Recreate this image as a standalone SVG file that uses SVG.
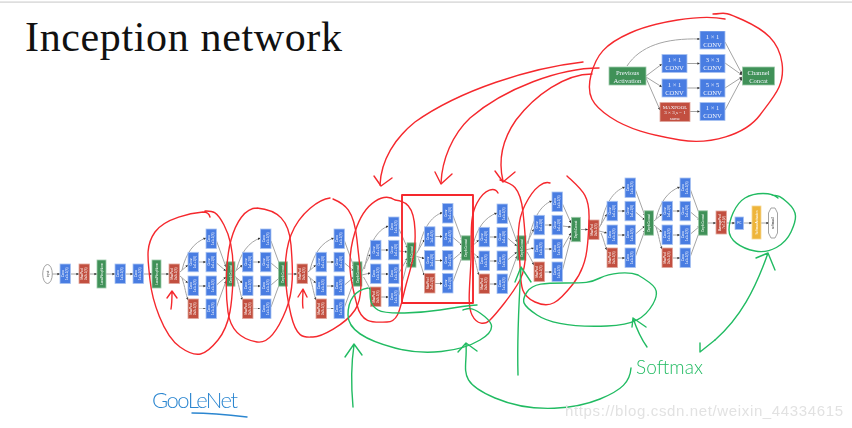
<svg xmlns="http://www.w3.org/2000/svg" width="852" height="428" viewBox="0 0 852 428">
<style>
.b{fill:#4a7de2;stroke:#a9c3f2;stroke-width:.8}
.r{fill:#c2503f;stroke:#e0a79e;stroke-width:.8}
.g{fill:#3f9158;stroke:#9fcbab;stroke-width:.8}
.y{fill:#eeb53a;stroke:#f6d894;stroke-width:.8}
.o{fill:#fff;stroke:#999;stroke-width:.9}
.e{fill:none;stroke:#a4a4a4;stroke-width:1;marker-end:url(#a)}
.t{font-family:"Liberation Sans",Arial,sans-serif;font-size:3px;fill:#fff;text-anchor:middle}
.k{fill:#333}
.i{font-family:"Liberation Serif","Times New Roman",serif;font-size:6.6px;fill:#f2f5fd;text-anchor:middle}
.red{fill:none;stroke:#f5282d;stroke-width:1.4;stroke-linecap:round;stroke-linejoin:round}
.grn{fill:none;stroke:#21bb62;stroke-width:1.4;stroke-linecap:round;stroke-linejoin:round}
.blu{fill:none;stroke:#2b86d0;stroke-width:1.4;stroke-linecap:round}
</style>
<defs>
<filter id="soft" x="0" y="0" width="100%" height="100%"><feGaussianBlur stdDeviation="0.4"/></filter>
<marker id="a" markerWidth="3" markerHeight="3" refX="2.6" refY="1.500" orient="auto"><path d="M0,.3L2.800,1.500L0,2.700z" fill="#333"/></marker>
<g id="cv"><rect class="b" width="10.500" height="19.500"/><text class="t" transform="translate(4.400,9.750) rotate(-90)">Conv</text><text class="t" transform="translate(8,9.750) rotate(-90)">1x1+1(S)</text></g>
<g id="mp"><rect class="r" width="10.500" height="19.500"/><text class="t" transform="translate(4.400,9.750) rotate(-90)">MaxPool</text><text class="t" transform="translate(8,9.750) rotate(-90)">3x3+1(S)</text></g>
<g id="cc"><rect class="g" y="-12.200" width="9" height="24.400"/><text class="t" transform="translate(5.600,0) rotate(-90)">DepthConcat</text></g>
<g id="mod">
<use href="#cv" x="18"/><use href="#cv" y="23.300"/><use href="#cv" x="18" y="23.300"/><use href="#cv" y="47"/><use href="#cv" x="18" y="47"/><use href="#mp" y="70"/><use href="#cv" x="18" y="70"/>
</g>
<g id="inner"><path class="e" d="M10.500,33H18"/><path class="e" d="M10.500,57H18"/><path class="e" d="M10.500,80H18"/></g>
<g id="fanA"><path class="e" d="M-6,41C-2,24 6,13 18,9"/><path class="e" d="M-8,43L0,36"/><path class="e" d="M-8,47L0,54"/><path class="e" d="M-6,49C-3,58 -2,66 0,71"/></g>
<g id="fanB"><path class="e" d="M-6,47C-2,26 6,13 18,9"/><path class="e" d="M-8,50L0,36"/><path class="e" d="M-8,53L0,55"/><path class="e" d="M-6,55C-3,62 -2,68 0,72"/></g>
<g id="fanC"><path class="e" d="M-6,52C-2,28 6,13 18,9"/><path class="e" d="M-9,55L0,37"/><path class="e" d="M-9,58L0,56"/><path class="e" d="M-7,60C-4,65 -2,69 0,73"/></g>
<g id="outA"><path class="e" d="M28.500,12L38,38"/><path class="e" d="M28.500,34L38,42"/><path class="e" d="M28.500,56L38,48"/><path class="e" d="M28.500,78L38,52"/></g>
<g id="outB"><path class="e" d="M28.500,12L37,31"/><path class="e" d="M28.500,34L37,35"/><path class="e" d="M28.500,56L37,41"/><path class="e" d="M28.500,78L37,45"/></g>
</defs>
<rect width="852" height="428" fill="#fff"/>
<rect y="1.500" width="852" height="1.200" fill="#d0d0d0"/>
<text id="title" x="25" y="51" font-family="'Liberation Serif','Times New Roman',serif" font-size="42" fill="#111" textLength="317">Inception network</text>

<g id="connectors" filter="url(#soft)">
<path class="e" d="M52,274H60"/><path class="e" d="M71,274H79"/><path class="e" d="M90,274H97"/><path class="e" d="M106,274H115"/><path class="e" d="M125,274H133"/><path class="e" d="M144,274H152"/><path class="e" d="M161,274H169"/><path class="e" d="M179,274H180"/>
<use href="#fanA" x="188" y="229"/><use href="#inner" x="188" y="229"/><use href="#outA" x="188" y="229"/>
<use href="#fanA" x="242.500" y="229"/><use href="#inner" x="242.500" y="229"/><use href="#outA" x="242.500" y="229"/>
<path class="e" d="M287,274H297"/>
<use href="#fanA" x="316" y="229"/><use href="#inner" x="316" y="229"/><use href="#outA" x="316" y="229"/>
<use href="#fanC" x="370.500" y="217"/><use href="#inner" x="370.500" y="217"/><use href="#outB" x="370.500" y="217"/>
<use href="#fanB" x="424.500" y="203.500"/><use href="#inner" x="424.500" y="203.500"/><use href="#outA" x="424.500" y="203.500"/>
<use href="#fanA" x="479" y="204"/><use href="#inner" x="479" y="204"/><use href="#outA" x="479" y="204"/>
<use href="#fanC" x="534" y="192"/><use href="#inner" x="534" y="192"/><use href="#outB" x="534" y="192"/>
<path class="e" d="M581,229.500H588"/>
<use href="#fanB" x="607" y="178"/><use href="#inner" x="607" y="178"/><use href="#outA" x="607" y="178"/>
<use href="#fanA" x="662" y="178"/><use href="#inner" x="662" y="178"/><use href="#outA" x="662" y="178"/>
<path class="e" d="M708,223H716"/><path class="e" d="M727,223H735"/><path class="e" d="M743,223H752"/><path class="e" d="M761,223H769"/>
<path class="e" d="M627,66C640,46 665,38 700,39"/><path class="e" d="M646,76L662,64"/><path class="e" d="M646,77L662,87"/><path class="e" d="M646,78L660,110"/>
<path class="e" d="M687,63.500H700"/><path class="e" d="M687,88H700"/><path class="e" d="M690,111.500H700"/>
<path class="e" d="M725,42L742,74"/><path class="e" d="M725,63L742,75"/><path class="e" d="M725,88L742,77"/><path class="e" d="M725,110L742,78"/>
</g>

<g id="network" filter="url(#soft)">
<g id="input"><ellipse class="o" cx="47.500" cy="274" rx="4.800" ry="9.500"/><text class="t k" transform="translate(48.500,274) rotate(-90)">input</text></g>
<g id="conv1"><use href="#cv" x="60" y="264"/></g>
<g id="pool1"><use href="#mp" x="79" y="264"/></g>
<g id="lrn1"><rect class="g" x="97" y="260" width="9" height="28"/><text class="t" transform="translate(102.600,274) rotate(-90)">LocalRespNorm</text></g>
<g id="conv2"><use href="#cv" x="115" y="264"/></g>
<g id="conv3"><use href="#cv" x="133" y="264"/></g>
<g id="lrn2"><rect class="g" x="152" y="260" width="9" height="28"/><text class="t" transform="translate(157.600,274) rotate(-90)">LocalRespNorm</text></g>
<g id="pool2"><use href="#mp" x="169" y="264"/></g>
<g id="module1"><use href="#mod" x="188" y="229"/><use href="#cc" x="226" y="274"/></g>
<g id="module2"><use href="#mod" x="242.500" y="229"/><use href="#cc" x="278.500" y="274"/></g>
<g id="pool3"><use href="#mp" x="297" y="264"/></g>
<g id="module3"><use href="#mod" x="316" y="229"/><use href="#cc" x="353" y="274"/></g>
<g id="module4"><use href="#mod" x="370.500" y="217"/><use href="#cc" x="407" y="255"/></g>
<g id="module5"><use href="#mod" x="424.500" y="203.500"/><use href="#cc" x="461.500" y="248"/></g>
<g id="module6"><use href="#mod" x="479" y="204"/><use href="#cc" x="517" y="248"/></g>
<g id="module7"><use href="#mod" x="534" y="192"/><use href="#cc" x="571.500" y="229.500"/></g>
<g id="pool4"><use href="#mp" x="588.500" y="220"/></g>
<g id="module8"><use href="#mod" x="607" y="178"/><use href="#cc" x="644.500" y="223"/></g>
<g id="module9"><use href="#mod" x="662" y="178"/><use href="#cc" x="698.500" y="223"/></g>
<g id="avgpool"><rect class="r" x="716" y="211" width="10.500" height="23"/><text class="t" transform="translate(720.500,222.500) rotate(-90)">AveragePool</text><text class="t" transform="translate(724.500,222.500) rotate(-90)">7x7+1(V)</text></g>
<g id="fc"><rect class="b" x="735" y="217" width="8.500" height="12.500"/><text class="t" x="739.300" y="224.300">FC</text></g>
<g id="softmaxact"><rect class="y" x="752" y="206" width="9" height="33"/><text class="t" transform="translate(757.500,222.500) rotate(-90)">SoftmaxActivation</text></g>
<g id="softmax"><path class="o" d="M771,208H775L777.500,213V233L775,238H771L768.500,233V213Z"/><text class="t k" transform="translate(774,223) rotate(-90)">softmax2</text></g>

<g id="prev"><rect class="g" x="609" y="67" width="37" height="18"/><text class="i" x="627.500" y="74.500">Previous</text><text class="i" x="627.500" y="82.500">Activation</text></g>
<g id="i11a"><rect class="b" x="700" y="31" width="25" height="18"/><text class="i" x="712.500" y="38.500">1 × 1</text><text class="i" x="712.500" y="46.500">CONV</text></g>
<g id="i11b"><rect class="b" x="662" y="54.500" width="25" height="18"/><text class="i" x="674.500" y="62">1 × 1</text><text class="i" x="674.500" y="70">CONV</text></g>
<g id="i33"><rect class="b" x="700" y="54.500" width="25" height="18"/><text class="i" x="712.500" y="62">3 × 3</text><text class="i" x="712.500" y="70">CONV</text></g>
<g id="i11c"><rect class="b" x="662" y="79" width="25" height="18"/><text class="i" x="674.500" y="86.500">1 × 1</text><text class="i" x="674.500" y="94.500">CONV</text></g>
<g id="i55"><rect class="b" x="700" y="79" width="25" height="18"/><text class="i" x="712.500" y="86.500">5 × 5</text><text class="i" x="712.500" y="94.500">CONV</text></g>
<g id="imax"><rect class="r" x="660" y="102.500" width="30" height="19"/><text class="i" style="font-size:5px" x="675" y="108.500">MAXPOOL</text><text class="i" style="font-size:5px" x="675" y="114">3 × 3,s = 1</text><text class="i" style="font-size:5px" x="675" y="119.500">same</text></g>
<g id="i11d"><rect class="b" x="700" y="102.500" width="25" height="18"/><text class="i" x="712.500" y="110">1 × 1</text><text class="i" x="712.500" y="118">CONV</text></g>
<g id="concat"><rect class="g" x="742.500" y="67" width="32" height="18"/><text class="i" x="758.500" y="74.500">Channel</text><text class="i" x="758.500" y="82.500">Concat</text></g>
</g>

<g id="red-marks">
<path class="red" d="M725,19C700,14 655,22 630,33S596,55 591,75S592,105 610,117S650,135 680,140S745,135 760,115S785,85 782,63S765,30 743,20S725,14 713,14"/>
<path class="red" d="M583,62C530,68 460,90 415,122C395,138 381,160 380,185"/><path class="red" d="M374,176L381,186L392,178"/>
<path class="red" d="M599,68C560,68 505,88 470,118C452,135 442,160 441,183"/><path class="red" d="M435,172L441,184L452,174"/>
<path class="red" d="M592,74C565,74 535,95 516,120C502,140 498,160 503,181"/><path class="red" d="M495,171L503,182L515,172"/>
<path class="red" d="M210,217C209,213 206,212 203,212C192,213 165,218 155,232S148,260 150,280S163,335 180,347S205,356 218,340S232,300 233,280S232,240 224,225S212,211 205,211"/>
<path class="red" d="M257,208C245,208 236,222 231,240S225,290 228,312S245,340 257,342S278,330 286,310S293,270 291,245S278,210 257,208"/>
<path class="red" d="M330,198C320,199 300,212 291,235S285,290 291,315S305,337 313,337S345,325 355,310S360,270 357,240S345,204 333,199"/>
<path class="red" d="M395,200C385,193 365,200 355,232S352,285 357,305S375,322 387,322S400,308 406,285S416,255 415,230S405,201 395,200"/>
<rect class="red" x="402" y="195" width="71" height="108" style="stroke-width:1.900"/>
<path class="red" d="M498,193C495,187 485,188 477,203S472,235 471,260S467,305 472,315S485,325 490,320S512,295 520,280S526,240 523,212S510,183 500,180"/>
<path class="red" d="M550,183C545,181 535,185 525,205S519,245 520,265S520,295 535,302S558,303 573,284S588,245 589,220S582,190 567,176"/>
<path class="red" d="M171,309C172,303 172,298 172,292M167,298L172,291L177,298"/>
<path class="red" d="M303,308C302,302 303,296 303,290M298,297L303,289L307,297"/>
</g>
<g id="green-marks">
<path class="grn" d="M368,288C355,290 348,300 348,315S365,340 395,348S460,352 480,340S490,320 480,313S467,309 463,310"/>
<path class="grn" d="M370,288C370,300 370,305 378,310S420,313 440,310S470,305 477,305"/>
<path class="grn" d="M353,407C351,385 351,365 354,345M345,357L354,344L362,355"/>
<path class="grn" d="M631,368C630,382 622,390 600,399S535,415 495,398S468,370 466,344M458,352L466,343L477,351"/>
<path class="grn" d="M518,375C517,340 519,300 521,268M515,282L521,267L531,282"/>
<path class="grn" d="M638,275C628,271 610,273 600,278S585,283 565,283S533,283 527,292S522,305 537,315S580,327 607,326S645,318 653,304S655,285 638,275"/>
<path class="grn" d="M647,347C642,340 637,330 633,318M632,327L633,318L646,327"/>
<path class="grn" d="M778,198C772,192 755,192 745,198S729,220 729,230S740,248 755,251S785,245 791,232S798,212 788,203S778,196 772,195"/>
<path class="grn" d="M715,340C740,318 755,290 768,253M756,258L768,253L775,270"/>
<path class="grn" d="M700,343L700,352L715,340"/>
<text x="636" y="374" font-family="Lato,'Open Sans',sans-serif" font-weight="300" font-size="19" fill="#21bb62" textLength="67">Softmax</text>
</g>
<g id="handwriting">
<text x="152" y="408" font-family="Lato,'Open Sans',sans-serif" font-weight="300" font-size="22" fill="#2b86d0" textLength="86">GooLeNet</text>
<path class="blu" d="M192,413C210,413 230,415 247,417"/>
</g>
<text id="watermark" x="565" y="416" font-family="'Liberation Sans',Arial,sans-serif" font-size="15" fill="#e2e2e2" textLength="278">https://blog.csdn.net/weixin_44334615</text>
</svg>
